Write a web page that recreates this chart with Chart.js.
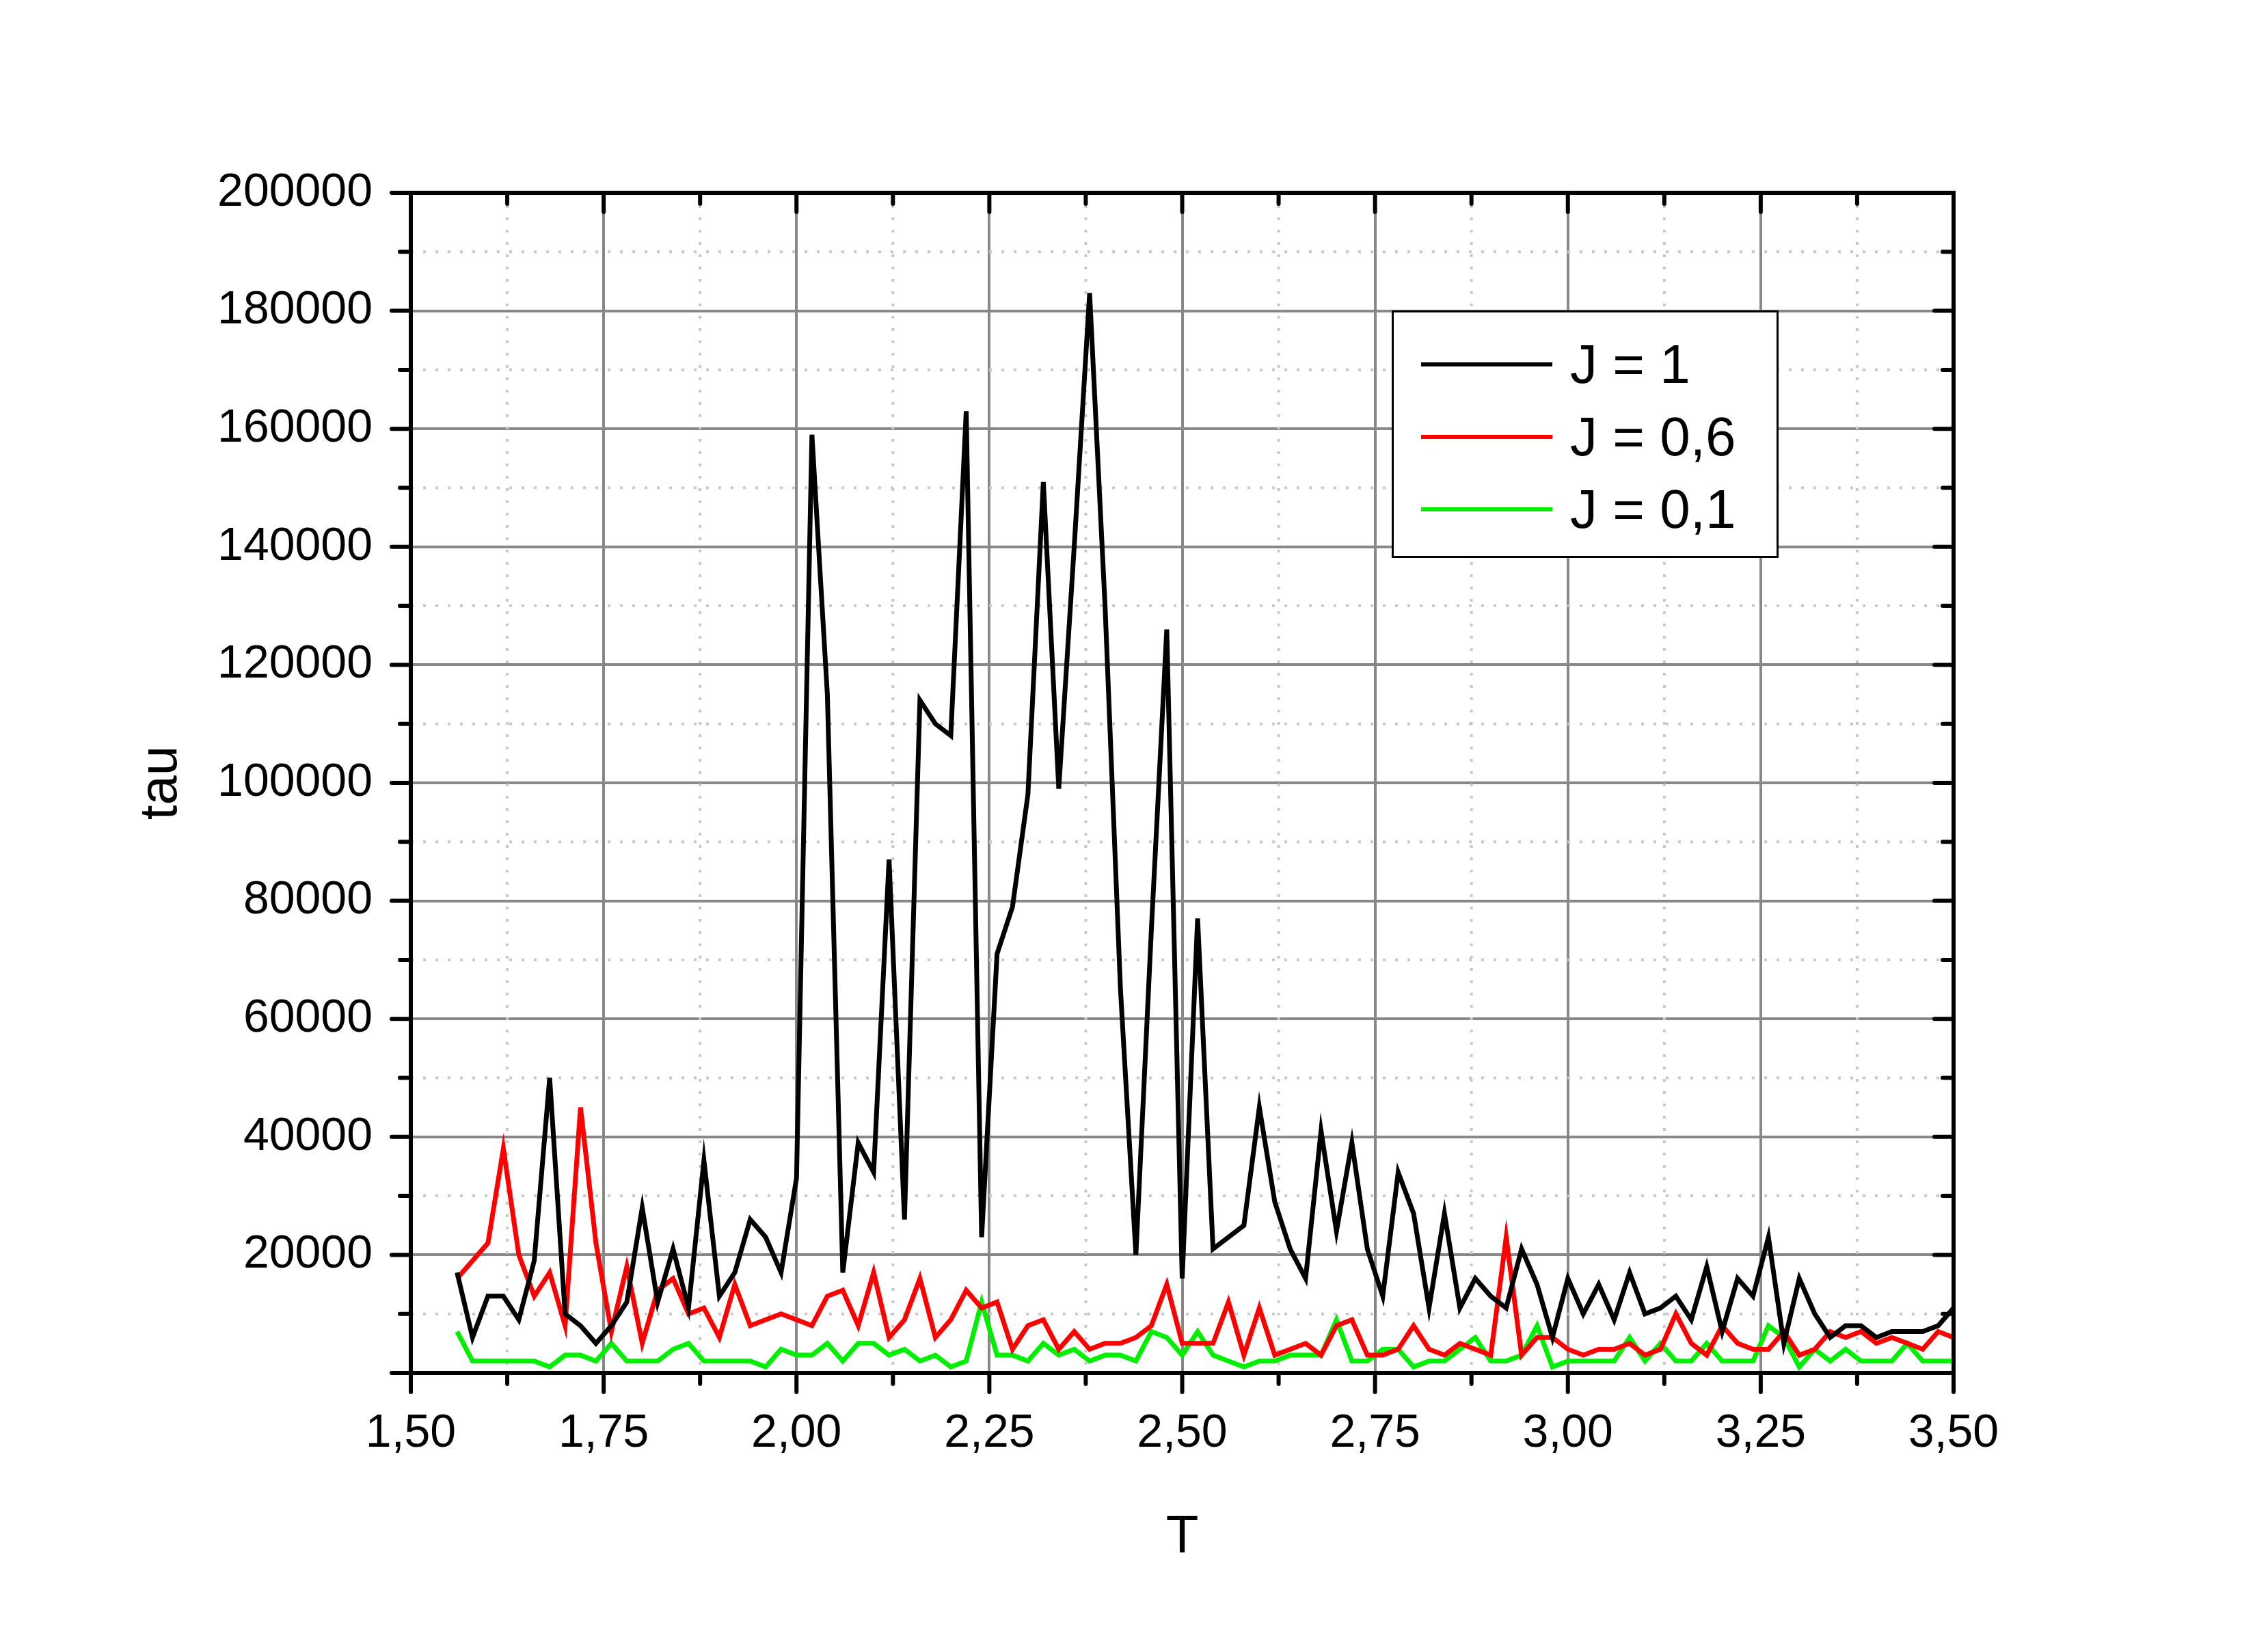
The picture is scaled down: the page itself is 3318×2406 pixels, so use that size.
<!DOCTYPE html>
<html>
<head>
<meta charset="utf-8">
<script src="https://cdn.jsdelivr.net/npm/chart.js@4.4.1/dist/chart.umd.min.js"></script>
<style>
  html, body { margin: 0; padding: 0; background: #fff; }
  #wrap { position: relative; width: 3318px; height: 2406px; }
  #legend {
    position: absolute; left: 2036px; top: 454px; width: 566px; height: 362px;
    border: 3px solid #000; background: #fff; box-sizing: border-box;
    font-family: "Liberation Sans", Arial, sans-serif; font-size: 80px; color: #000;
  }
  .row { position: absolute; left: 40px; height: 100px; display: flex; align-items: center; }
  .swatch { width: 192px; height: 6px; margin-right: 26px; }
</style>
</head>
<body>
<div id="wrap">
  <canvas id="c" width="3318" height="2406"></canvas>
  <div id="legend">
    <div class="row" style="top:26px"><div class="swatch" style="background:#000"></div>J = 1</div>
    <div class="row" style="top:132px"><div class="swatch" style="background:#ff0000"></div>J = 0,6</div>
    <div class="row" style="top:238px"><div class="swatch" style="background:#00ee00"></div>J = 0,1</div>
  </div>
</div>
<script>
// temperatures 1.56 .. 3.50, step 0.02
const temps = [
  1.56,1.58,1.60,1.62,1.64,1.66,1.68,1.70,1.72,1.74,1.76,1.78,1.80,1.82,1.84,1.86,1.88,1.90,1.92,1.94,
  1.96,1.98,2.00,2.02,2.04,2.06,2.08,2.10,2.12,2.14,2.16,2.18,2.20,2.22,2.24,2.26,2.28,2.30,2.32,2.34,
  2.36,2.38,2.40,2.42,2.44,2.46,2.48,2.50,2.52,2.54,2.56,2.58,2.60,2.62,2.64,2.66,2.68,2.70,2.72,2.74,
  2.76,2.78,2.80,2.82,2.84,2.86,2.88,2.90,2.92,2.94,2.96,2.98,3.00,3.02,3.04,3.06,3.08,3.10,3.12,3.14,
  3.16,3.18,3.20,3.22,3.24,3.26,3.28,3.30,3.32,3.34,3.36,3.38,3.40,3.42,3.44,3.46,3.48,3.50
];
// tau values in thousands
const tauJ1 = [
  17,6,13,13,9,19,50,10,8,5,8,12,28,12,21,11,36,13,17,26,
  23,17,33,159,115,17,39,34,87,26,114,110,108,163,23,71,79,98,151,99,
  140,183,130,65,20,75,126,16,77,21,23,25,45,29,21,16,41,24,39,21,
  13,34,27,11,27,11,16,13,11,21,15,6,16,10,15,9,17,10,11,13,
  9,18,7,16,13,23,5,16,10,6,8,8,6,7,7,7,8,11
];
const tauJ06 = [
  16,19,22,38,20,13,17,8,45,22,7,18,5,14,16,10,11,6,15,8,
  9,10,9,8,13,14,8,17,6,9,16,6,9,14,11,12,4,8,9,4,
  7,4,5,5,6,8,15,5,5,5,12,3,11,3,4,5,3,8,9,3,
  3,4,8,4,3,5,4,3,23,3,6,6,4,3,4,4,5,3,4,10,
  5,3,8,5,4,4,7,3,4,7,6,7,5,6,5,4,7,6
];
const tauJ01 = [
  7,2,2,2,2,2,1,3,3,2,5,2,2,2,4,5,2,2,2,2,
  1,4,3,3,5,2,5,5,3,4,2,3,1,2,12,3,3,2,5,3,
  4,2,3,3,2,7,6,3,7,3,2,1,2,2,3,3,3,9,2,2,
  4,4,1,2,2,4,6,2,2,3,8,1,2,2,2,2,6,2,5,2,
  2,5,2,2,2,8,6,1,4,2,4,2,2,2,5,2,2,2
];

const toPts = vals => vals.map((v, i) => ({ x: temps[i], y: v * 1000 }));
const font = { family: '"Liberation Sans", Arial, sans-serif', size: 68 };

// minor dotted grid, tick marks and black frame
const framePlugin = {
  id: 'frame',
  beforeDatasetsDraw(chart) {
    const { ctx, chartArea: a, scales: { x, y } } = chart;
    ctx.save();
    ctx.strokeStyle = '#c8c8c8';
    ctx.lineWidth = 4;
    ctx.setLineDash([4, 14]);
    for (let v = 1.625; v < 3.5; v += 0.25) {
      const px = x.getPixelForValue(v);
      ctx.beginPath(); ctx.moveTo(px, a.top); ctx.lineTo(px, a.bottom); ctx.stroke();
    }
    for (let v = 10000; v < 200000; v += 20000) {
      const py = y.getPixelForValue(v);
      ctx.beginPath(); ctx.moveTo(a.left, py); ctx.lineTo(a.right, py); ctx.stroke();
    }
    ctx.restore();
  },
  afterDatasetsDraw(chart) {
    const { ctx, chartArea: a, scales: { x, y } } = chart;
    ctx.save();
    ctx.strokeStyle = '#000';
    ctx.lineWidth = 6;
    ctx.lineCap = 'round';
    for (let v = 1.5; v <= 3.5001; v += 0.125) {
      const px = x.getPixelForValue(v);
      const major = Math.abs(v / 0.25 - Math.round(v / 0.25)) < 1e-6;
      const len = major ? 28 : 16;
      ctx.beginPath(); ctx.moveTo(px, a.bottom); ctx.lineTo(px, a.bottom + len); ctx.stroke();
      ctx.beginPath(); ctx.moveTo(px, a.top); ctx.lineTo(px, a.top + len); ctx.stroke();
    }
    for (let v = 0; v <= 200000; v += 10000) {
      const py = y.getPixelForValue(v);
      const len = v % 20000 === 0 ? 28 : 16;
      ctx.beginPath(); ctx.moveTo(a.left - len, py); ctx.lineTo(a.left, py); ctx.stroke();
      ctx.beginPath(); ctx.moveTo(a.right - len, py); ctx.lineTo(a.right, py); ctx.stroke();
    }
    ctx.lineCap = 'butt';
    ctx.strokeRect(a.left, a.top, a.right - a.left, a.bottom - a.top);
    ctx.restore();
  }
};

new Chart(document.getElementById('c'), {
  type: 'line',
  data: {
    datasets: [
      { label: 'J = 1', data: toPts(tauJ1), borderColor: '#000000' },
      { label: 'J = 0,6', data: toPts(tauJ06), borderColor: '#ff0000' },
      { label: 'J = 0,1', data: toPts(tauJ01), borderColor: '#00ee00' }
    ]
  },
  options: {
    responsive: false,
    animation: false,
    devicePixelRatio: 1,
    layout: { padding: { left: 190, right: 460, top: 282, bottom: 0 } },
    elements: { point: { radius: 0 }, line: { borderWidth: 7, tension: 0 } },
    plugins: { legend: { display: false }, tooltip: { enabled: false } },
    scales: {
      x: {
        type: 'linear', min: 1.5, max: 3.5,
        afterFit: s => { s.height = 398; },
        border: { display: false },
        grid: { color: '#888', lineWidth: 4, drawTicks: false },
        ticks: {
          stepSize: 0.25, padding: 48, color: '#000', font,
          callback: v => v.toFixed(2).replace('.', ',')
        },
        title: { display: true, text: 'T', color: '#000', font: { ...font, size: 78 }, padding: { top: 0, bottom: 110 } }
      },
      y: {
        min: 0, max: 200000,
        afterFit: s => { s.width = 411; },
        border: { display: false },
        grid: { color: '#888', lineWidth: 4, drawTicks: false },
        ticks: {
          stepSize: 20000, padding: 56, color: '#000', font,
          callback: v => v === 0 ? '' : String(v)
        },
        title: { display: true, text: 'tau', color: '#000', font: { ...font, size: 78 }, padding: 0 }
      }
    }
  },
  plugins: [framePlugin]
});
</script>
</body>
</html>
